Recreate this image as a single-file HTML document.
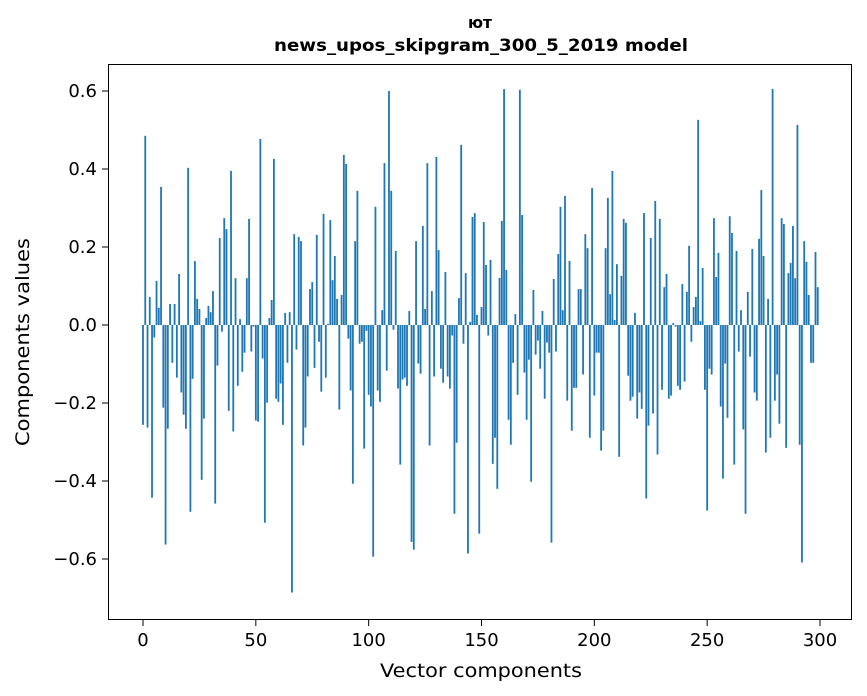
<!DOCTYPE html>
<html><head><meta charset="utf-8"><style>
html,body{margin:0;padding:0;background:#fff;}
svg{display:block;font-family:"DejaVu Sans","Liberation Sans",sans-serif;}
</style></head><body>
<svg id="chart" width="867" height="696" viewBox="0 0 867 696" xmlns="http://www.w3.org/2000/svg">
<rect width="867" height="696" fill="#fff"/>
<text x="480" y="28" text-anchor="middle" font-size="16" font-weight="bold" textLength="24" lengthAdjust="spacingAndGlyphs">ют</text>
<text x="481" y="51" text-anchor="middle" font-size="17" font-weight="bold" textLength="414" lengthAdjust="spacingAndGlyphs">news_upos_skipgram_300_5_2019 model</text>
<g id="bars"></g>
<g id="axes"></g>
<rect x="108.5" y="64.5" width="743" height="555" fill="none" stroke="#000" stroke-width="1"/>
<text x="481" y="677" text-anchor="middle" font-size="19" textLength="202" lengthAdjust="spacingAndGlyphs">Vector components</text>
<text transform="translate(29,342) rotate(-90)" text-anchor="middle" font-size="19" textLength="208" lengthAdjust="spacingAndGlyphs">Components values</text>
</svg>
<script>
const values = [
-0.256,0.485,-0.263,0.072,-0.443,-0.032,0.113,0.044,0.354,-0.212,
-0.563,-0.266,0.054,-0.097,0.054,-0.135,0.131,-0.173,-0.23,-0.266,
0.403,-0.479,-0.138,0.164,0.067,0.041,-0.397,-0.24,0.018,0.049,
0.033,0.087,-0.458,-0.104,0.223,-0.017,0.274,0.246,-0.22,0.395,
-0.273,0.12,-0.156,0.015,-0.12,-0.071,0.12,0.272,-0.068,-0.004,
-0.245,-0.248,0.477,-0.086,-0.507,-0.199,0.018,0.064,0.426,-0.189,
-0.197,-0.15,-0.256,0.031,-0.097,0.033,-0.686,0.233,-0.063,0.226,
0.215,-0.309,-0.263,-0.132,0.092,0.11,-0.11,0.231,-0.043,-0.171,
0.285,-0.135,0.003,0.269,0.115,0.177,0.067,-0.217,0.077,0.436,
0.413,-0.035,-0.168,-0.407,0.215,0.344,-0.048,-0.043,-0.317,-0.015,
-0.179,-0.209,-0.594,0.303,-0.168,-0.197,0.038,0.415,-0.117,0.6,
0.344,-0.012,0.19,-0.163,-0.358,-0.14,-0.135,-0.156,0.036,-0.556,
-0.576,0.215,-0.099,-0.125,0.254,0.041,0.415,-0.309,0.087,-0.132,
0.431,0.192,-0.112,-0.148,0.136,-0.132,-0.163,-0.027,-0.484,-0.302,
0.069,0.462,-0.048,0.133,-0.586,0.008,0.277,0.287,0.026,-0.535,
0.046,0.264,0.154,-0.027,0.167,-0.356,-0.289,-0.42,0.121,0.267,
0.605,0.141,-0.243,-0.307,-0.097,0.028,-0.179,0.603,0.282,-0.122,
-0.243,-0.089,-0.402,0.09,-0.076,-0.04,-0.112,0.036,-0.189,-0.045,
-0.071,-0.558,0.118,-0.068,0.182,0.303,0.038,0.331,-0.194,0.164,
-0.271,-0.161,-0.161,0.092,0.092,-0.127,0.233,0.197,-0.289,0.351,
-0.181,-0.071,-0.071,-0.322,-0.271,0.197,0.326,0.079,0.395,0.013,
0.156,-0.338,0.126,0.272,0.262,-0.13,-0.194,-0.184,0.031,-0.24,
-0.173,-0.215,0.287,-0.445,-0.258,0.223,-0.227,0.318,-0.332,0.272,
-0.166,0.097,0.131,-0.189,-0.181,0.005,-0.004,-0.156,-0.166,0.105,
-0.145,0.085,0.203,-0.043,0.046,0.072,0.526,0.01,0.146,-0.166,
-0.476,-0.112,-0.127,0.274,0.123,0.185,-0.209,-0.394,-0.099,-0.238,
0.279,0.236,-0.358,0.19,-0.068,0.038,-0.268,-0.484,0.085,-0.081,
0.195,-0.173,-0.194,0.221,0.346,0.177,-0.327,0.067,-0.289,0.605,
-0.194,-0.127,-0.253,0.274,0.259,-0.315,0.133,0.159,0.254,0.12,
0.513,-0.307,-0.609,0.215,0.162,0.077,-0.097,-0.097,0.187,0.097
];
const xTicks = [0,50,100,150,200,250,300];
const yTicks = [-0.6,-0.4,-0.2,0.0,0.2,0.4,0.6];
const yTickLabels = ["\u22120.6","\u22120.4","\u22120.2","0.0","0.2","0.4","0.6"];

const NS = "http://www.w3.org/2000/svg";
const xS = v => 143 + v * (677/300);
const yS = v => 325 - v * 390;
const bars = document.getElementById('bars');
const bw = 0.8 * 677/300;
values.forEach((v, i) => {
  const r = document.createElementNS(NS, 'rect');
  
  
  const y0 = yS(0), y1 = yS(v);
  r.setAttribute('x', xS(i) - bw/2);
  r.setAttribute('y', Math.min(y0, y1));
  r.setAttribute('width', bw);
  r.setAttribute('height', Math.abs(y1 - y0));
  r.setAttribute('fill', '#1f77b4');
  bars.appendChild(r);
});
const axes = document.getElementById('axes');
xTicks.forEach(t => {
  const l = document.createElementNS(NS, 'line');
  
  
  l.setAttribute('x1', xS(t)); l.setAttribute('x2', xS(t));
  l.setAttribute('y1', 620); l.setAttribute('y2', 626);
  l.setAttribute('stroke', '#000');
  axes.appendChild(l);
  const tx = document.createElementNS(NS, 'text');
  
  
  tx.setAttribute('x', xS(t)); tx.setAttribute('y', 646);
  tx.setAttribute('text-anchor', 'middle');
  tx.setAttribute('font-size', '18');
  tx.textContent = String(t);
  axes.appendChild(tx);
});
yTicks.forEach((t, k) => {
  const l = document.createElementNS(NS, 'line');
  
  
  l.setAttribute('x1', 102); l.setAttribute('x2', 108);
  l.setAttribute('y1', yS(t)); l.setAttribute('y2', yS(t));
  l.setAttribute('stroke', '#000');
  axes.appendChild(l);
  const tx = document.createElementNS(NS, 'text');
  
  
  tx.setAttribute('x', 97); tx.setAttribute('y', yS(t) + 6);
  tx.setAttribute('text-anchor', 'end');
  tx.setAttribute('font-size', '18');
  tx.textContent = yTickLabels[k];
  axes.appendChild(tx);
});
</script>
</body></html>
